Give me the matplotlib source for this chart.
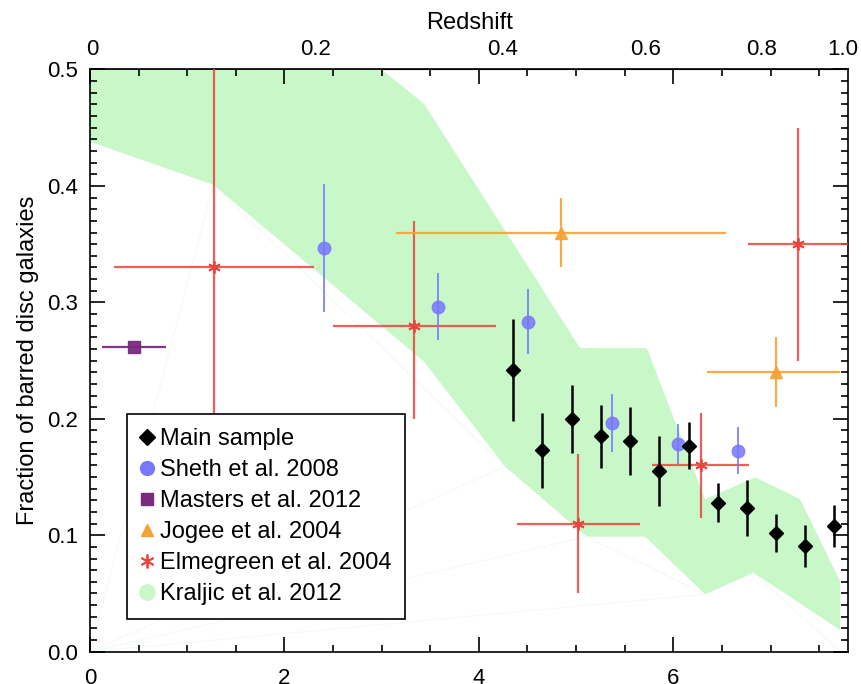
import numpy as np
import matplotlib
matplotlib.use("Agg")
import matplotlib.pyplot as plt
from matplotlib.lines import Line2D

plt.rcParams['font.family'] = ['Liberation Sans', 'DejaVu Sans']

# lookback time (Gyr) on the bottom axis, redshift labels on the top
top_z_labels = ["0", "0.2", "0.4", "0.6", "0.8", "1.0"]
top_z_pos = [0.02, 2.32, 4.24, 5.71, 6.91, 7.74]

# Main sample
main_t = [4.355, 4.653, 4.956, 5.257, 5.556, 5.854, 6.159, 6.458, 6.756, 7.058, 7.356, 7.654]
main_f = [0.242, 0.173, 0.200, 0.185, 0.181, 0.155, 0.177, 0.128, 0.1235, 0.102, 0.091, 0.108]
main_err = [0.044, 0.032, 0.029, 0.027, 0.029, 0.030, 0.020, 0.017, 0.024, 0.016, 0.018, 0.018]

# Sheth et al. 2008
sheth_t = [2.41, 3.583, 4.503, 5.373, 6.052, 6.664]
sheth_f = [0.347, 0.2964, 0.2835, 0.1962, 0.1784, 0.1727]
sheth_err = [0.055, 0.029, 0.028, 0.025, 0.017, 0.020]

# Masters et al. 2012
masters_t = [0.453]
masters_f = [0.262]
masters_terr = [0.33]

# Jogee et al. 2004
jogee_t = [4.842, 7.058]
jogee_f = [0.360, 0.240]
jogee_err = [0.030, 0.030]
jogee_tlo = [1.697, 0.713]
jogee_thi = [1.70, 0.66]

# Elmegreen et al. 2004
elm_t = [1.279, 3.337, 5.024, 6.283, 7.287]
elm_f = [0.330, 0.280, 0.110, 0.160, 0.350]
elm_flo = [0.125, 0.080, 0.060, 0.045, 0.100]
elm_fhi = [0.20, 0.090, 0.060, 0.045, 0.100]
elm_terr = [1.03, 0.84, 0.63, 0.50, 0.52]

# Kraljic et al. 2012 band
kr_up_t = [0.0, 3.0, 3.436, 5.041, 5.727, 6.327, 6.842, 7.305, 7.716]
kr_up_f = [0.50, 0.50, 0.4705, 0.2607, 0.2607, 0.1309, 0.1498, 0.1309, 0.0601]
kr_lo_t = [0.0, 1.269, 3.436, 4.27, 5.11, 5.71, 6.327, 6.824, 7.716]
kr_lo_f = [0.438, 0.401, 0.2491, 0.159, 0.0988, 0.0988, 0.0493, 0.0679, 0.0186]

fig = plt.figure(figsize=(8.61, 6.84), dpi=100)
ax = fig.add_axes([0.1045, 0.0472, 0.8808, 0.8512])

green = '#c8f7c8'
ax.fill(kr_up_t + kr_lo_t[::-1], kr_up_f + kr_lo_f[::-1], color=green, lw=0, zorder=1)

# faint fill seams like in the original
faint = '#f0faf0'
for i in [1, 3, 4, 6]:
    ax.plot([0, kr_lo_t[i]], [0, kr_lo_f[i]], color=faint, lw=0.7, zorder=1.5)
ax.plot([kr_lo_t[1], kr_lo_t[3]], [kr_lo_f[1], kr_lo_f[3]], color=faint, lw=0.7, zorder=1.5)
ax.plot([kr_lo_t[4], kr_lo_t[6]], [kr_lo_f[4], kr_lo_f[6]], color=faint, lw=0.7, zorder=1.5)
ax.plot([kr_lo_t[7], kr_lo_t[8]], [kr_lo_f[7], 0], color=faint, lw=0.7, zorder=1.5)

red = '#e8453c'
ax.errorbar(elm_t, elm_f, xerr=elm_terr, yerr=[elm_flo, elm_fhi], fmt='none',
            ecolor=red, elinewidth=1.6, capsize=0, alpha=0.85, zorder=3)
ax.plot(elm_t, elm_f, ls='none', marker=(6, 2, 0), ms=9, mec=red, mew=1.3, zorder=3.1)

orange = '#f5a233'
ax.errorbar(jogee_t, jogee_f, xerr=[jogee_tlo, jogee_thi], yerr=jogee_err, fmt='^',
            color=orange, ms=9, elinewidth=1.6, capsize=0, alpha=0.9, zorder=3)

purple = '#7a2a7e'
ax.errorbar(masters_t, masters_f, xerr=masters_terr, fmt='s', color=purple, ms=8,
            elinewidth=1.6, capsize=0, alpha=0.95, zorder=3)

blue = '#7777ff'
ax.errorbar(sheth_t, sheth_f, yerr=sheth_err, fmt='o', color=blue, ms=9,
            elinewidth=1.4, capsize=0, alpha=0.85, zorder=4)

ax.errorbar(main_t, main_f, yerr=main_err, fmt='D', color='black', ms=7.5,
            elinewidth=1.8, capsize=0, zorder=5)

ax.set_xlim(0, 7.8)
ax.set_ylim(0, 0.5)
ax.set_xticks([0, 2, 4, 6])
ax.set_xticks(np.arange(0, 7.8, 0.5), minor=True)
ax.set_yticks([0.0, 0.1, 0.2, 0.3, 0.4, 0.5])
ax.set_yticklabels(["0.0", "0.1", "0.2", "0.3", "0.4", "0.5"])
ax.set_yticks(np.arange(0, 0.5, 0.01), minor=True)
ax.tick_params(which='both', direction='in', top=True, right=True, width=1.2,
               labelsize=16, pad=8.5)
# bottom labels sit partly below the picture edge, as in the original
ax.tick_params(axis='x', which='both', pad=12)
ax.tick_params(which='major', length=11)
ax.tick_params(which='minor', length=5)
for s in ax.spines.values():
    s.set_linewidth(1.2)
ax.set_ylabel("Fraction of barred disc galaxies", fontsize=17, labelpad=6)

top = ax.secondary_xaxis('top')
top.set_xticks(top_z_pos, labels=top_z_labels)
top.tick_params(length=0, labelsize=16, pad=7)
top.set_xlabel("Redshift", fontsize=17, labelpad=7)

handles = [
    Line2D([], [], ls='none', marker='D', color='black', ms=8),
    Line2D([], [], ls='none', marker='o', color=blue, ms=10),
    Line2D([], [], ls='none', marker='s', color=purple, ms=9),
    Line2D([], [], ls='none', marker='^', color=orange, ms=9),
    Line2D([], [], ls='none', marker=(6, 2, 0), mec=red, ms=10, mew=1.3),
    Line2D([], [], ls='none', marker='o', color=green, ms=11),
]
labels = ["Main sample", "Sheth et al. 2008", "Masters et al. 2012",
          "Jogee et al. 2004", "Elmegreen et al. 2004", "Kraljic et al. 2012"]
leg = ax.legend(handles, labels, loc='lower left', bbox_to_anchor=(0.0484, 0.0562),
                borderaxespad=0, fontsize=17, handlelength=0.5, handletextpad=0.3,
                labelspacing=0.38, borderpad=0.6, fancybox=False, framealpha=1,
                edgecolor='black')
leg.get_frame().set_linewidth(1.2)
leg.set_zorder(10)

fig.savefig("out.png", dpi=100)
